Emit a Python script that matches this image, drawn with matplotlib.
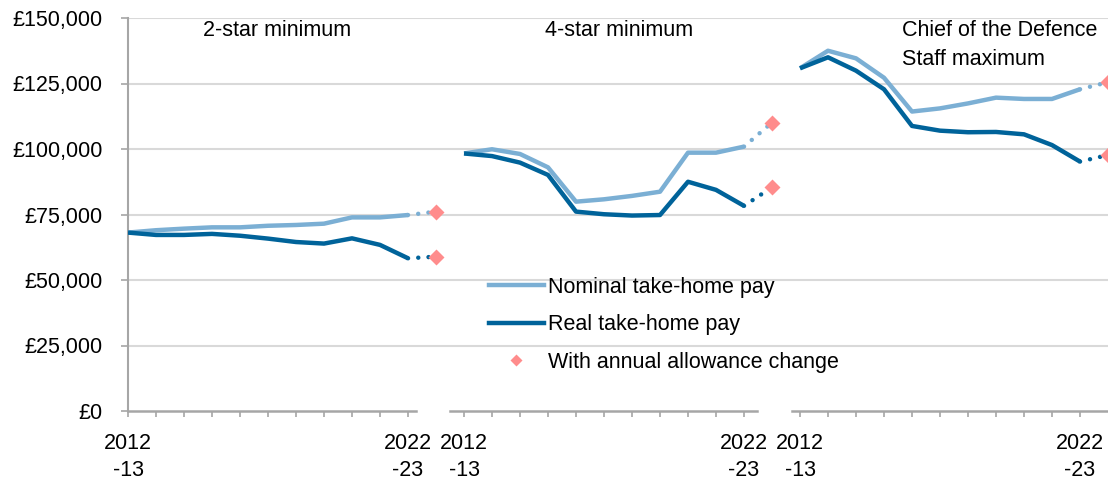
import matplotlib
matplotlib.use('Agg')
import matplotlib.pyplot as plt
from matplotlib.lines import Line2D

plt.rcParams['font.family'] = ['Liberation Sans', 'DejaVu Sans']

# ---- data ----
years = ['2012-13', '2013-14', '2014-15', '2015-16', '2016-17', '2017-18',
         '2018-19', '2019-20', '2020-21', '2021-22', '2022-23']
next_year = '2023-24'
panels = ['2-star minimum', '4-star minimum', 'Chief of the Defence\nStaff maximum']

nominal_2star = [68100, 69000, 69600, 70100, 70100, 70700, 71000, 71500, 73900, 73900, 74800]
real_2star = [68100, 67200, 67200, 67600, 66900, 65800, 64500, 63900, 65900, 63400, 58300]
nominal_4star = [98300, 99900, 98100, 93000, 79900, 80800, 82100, 83700, 98600, 98600, 100900]
real_4star = [98300, 97300, 94800, 90100, 76100, 75100, 74600, 74800, 87500, 84400, 78300]
nominal_cds = [130800, 137500, 134600, 127200, 114300, 115500, 117400, 119600, 119100, 119100, 122800]
real_cds = [130800, 135000, 129900, 122800, 108800, 107000, 106400, 106500, 105600, 101500, 95200]

allowance_nominal = [76100, 110100, 125500]
allowance_real = [58900, 85400, 97700]

nominal = [nominal_2star, nominal_4star, nominal_cds]
real = [real_2star, real_4star, real_cds]

y_ticks = [0, 25000, 50000, 75000, 100000, 125000, 150000]

# ---- style ----
c_nom = '#7BAFD4'
c_real = '#00639A'
c_dia = '#FF8C8C'
c_axis = '#A6A6A6'
c_grid = '#D9D9D9'
fs = 15.5

fig = plt.figure(figsize=(11.08, 4.79), dpi=100)
ax = fig.add_axes([128 / 1108, 68 / 479, 980 / 1108, 393 / 479])

n = len(years)
step = n + 1
tick_pos, tick_lab = [], []
for p in range(len(panels)):
    xs = [p * step + i for i in range(n)]
    xd = p * step + n
    ax.plot(xs, nominal[p], color=c_nom, lw=3.2, solid_capstyle='butt', zorder=3)
    ax.plot(xs, real[p], color=c_real, lw=3.2, solid_capstyle='butt', zorder=4)
    ax.plot([xs[-1], xd], [nominal[p][-1], allowance_nominal[p]], color=c_nom, lw=3.2,
            linestyle=(0, (0.01, 2.3)), dash_capstyle='round', zorder=3)
    ax.plot([xs[-1], xd], [real[p][-1], allowance_real[p]], color=c_real, lw=3.2,
            linestyle=(0, (0.01, 2.3)), dash_capstyle='round', zorder=4)
    ax.plot([xd, xd], [allowance_nominal[p], allowance_real[p]], linestyle='none',
            marker='D', ms=8, color=c_dia, mec='none', zorder=5)
    for i, x in enumerate(xs):
        tick_pos.append(x)
        lab = ''
        if i == 0 or i == n - 1:
            lab = years[i].replace('-', '\n-')
        tick_lab.append(lab)

ax.set_xlim(0, 3 * step - 1)
ax.set_ylim(0, 150000)
ax.set_yticks(y_ticks)
ax.set_yticklabels(['£{:,}'.format(v) for v in y_ticks], fontsize=fs)
ax.set_xticks(tick_pos)
ax.set_xticklabels(tick_lab, fontsize=fs, linespacing=1.42)

for s in ['top', 'right', 'bottom']:
    ax.spines[s].set_visible(False)
ax.spines['left'].set_color(c_axis)
ax.spines['left'].set_linewidth(1.5)
ax.tick_params(axis='y', length=5, width=1.2, color=c_axis, pad=13.5)
ax.tick_params(axis='x', length=4.5, width=1.2, color=c_axis, pad=11)

ax.yaxis.grid(True, color=c_grid, lw=1.5)
ax.set_axisbelow(True)
ax.get_ygridlines()[0].set_visible(False)

# broken x-axis line segments
for a, b in [(0, 10.3), (11.5, 22.45), (23.7, 35)]:
    ax.plot([a, b], [0, 0], color=c_axis, lw=1.8, clip_on=False, zorder=2)

# panel titles
ax.text(2.68, 145400, panels[0], fontsize=fs, ha='left', va='center')
ax.text(14.9, 145400, panels[1], fontsize=fs, ha='left', va='center')
ax.text(27.64, 139600, panels[2], fontsize=fs, ha='left', va='center', linespacing=1.5)

handles = [Line2D([], [], color=c_nom, lw=3.2),
           Line2D([], [], color=c_real, lw=3.2),
           Line2D([], [], color=c_dia, marker='D', ms=6, mec='none', linestyle='none')]
labels = ['Nominal take-home pay', 'Real take-home pay', 'With annual allowance change']
ax.legend(handles, labels, loc='upper left', bbox_to_anchor=(489 / 1108, 1 - 277 / 479),
          bbox_transform=fig.transFigure, frameon=False, fontsize=fs, handlelength=2.55,
          handletextpad=0.2, labelspacing=0.76, borderpad=0, borderaxespad=0)

fig.savefig('out.png', dpi=100)
